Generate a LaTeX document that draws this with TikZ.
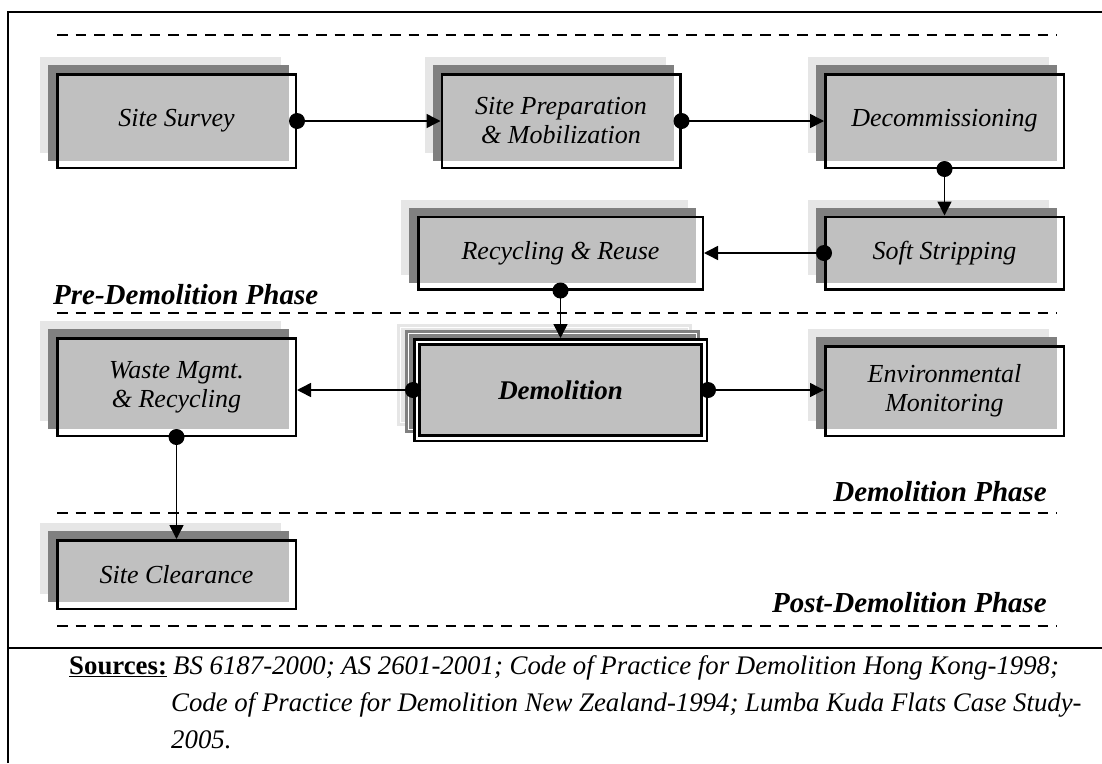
\documentclass[tikz,border=0pt]{standalone}
\usepackage{fontspec}
\setmainfont{Liberation Serif}
\usetikzlibrary{arrows.meta,backgrounds}

\definecolor{shadelight}{HTML}{E6E6E6}
\definecolor{shadedark}{HTML}{808080}
\definecolor{boxgray}{HTML}{C0C0C0}

% two offset shade layers, white frame area and the grey panel of a step box
\newcommand\layeredshade[1]{%
  \fill[shadelight] ([shift={(-16,-16)}]#1.north west) rectangle ([shift={(-16,-16)}]#1.south east);
  \fill[shadedark] ([shift={(-8,-8)}]#1.north west) rectangle ([shift={(-8,-8)}]#1.south east);
  \fill[white] (#1.north west) rectangle (#1.south east);
  \fill[boxgray] (#1.north west) rectangle ([shift={(-8,-8)}]#1.south east);
}

\begin{document}
\begin{tikzpicture}[x=1pt, y=-1pt,
  stepbox/.style={draw, line width=2.5pt, inner sep=0pt, align=center,
    font=\fontsize{26}{29}\selectfont\itshape},
  keybox/.style={draw, line width=2.5pt, double=white, double distance=2.6pt,
    fill=boxgray, inner sep=0pt, outer sep=3.8pt, align=center,
    font=\fontsize{27}{30}\selectfont\bfseries\itshape},
  phaseline/.style={line width=2.3pt, dash pattern=on 10.5pt off 8pt},
  phaselabel/.style={inner sep=0pt, font=\fontsize{29}{33}\selectfont\bfseries\itshape},
  srctext/.style={inner sep=0pt, anchor=base west, font=\fontsize{26.8}{30}\selectfont\itshape},
  conn/.style={line width=1.5pt, -{Triangle[length=14pt,width=14pt]}},
  dot/.style={fill=black}]

\useasboundingbox (0,0) rectangle (1102,763);

% frame
\draw[line width=2pt] (8,763) -- (8,11.5) -- (1102,11.5);
\draw[line width=2.8pt] (8,648) -- (1102,648);

% phase separators
\draw[phaseline] (57,35) -- (1057,35);
\draw[phaseline] (57,313) -- (1057,313);
\draw[phaseline] (57,513) -- (1057,513);
\draw[phaseline] (57,626) -- (1057,626);

% steps
\node[stepbox, minimum width=238.5pt, minimum height=93.5pt] (ss) at (176.5,121) {Site Survey};
\node[stepbox, minimum width=238.5pt, minimum height=93.5pt] (sp) at (561,121) {Site Preparation\\\& Mobilization};
\node[stepbox, minimum width=238.5pt, minimum height=93.5pt] (dc) at (944.5,121) {Decommissioning};
\node[stepbox, minimum width=238.5pt, minimum height=72.5pt] (st) at (944.5,253) {Soft Stripping};
\node[stepbox, minimum width=284.5pt, minimum height=72.5pt] (rr) at (560.5,253) {Recycling \& Reuse};
\node[keybox, minimum width=287.4pt, minimum height=96.4pt] (dm) at (560.5,390) {Demolition};
\node[stepbox, minimum width=238.5pt, minimum height=97.5pt] (wm) at (176.5,387) {Waste Mgmt.\\\& Recycling};
\node[stepbox, minimum width=238.5pt, minimum height=89.5pt] (em) at (944.5,391) {Environmental\\Monitoring};
\node[stepbox, minimum width=238.5pt, minimum height=68.5pt] (sc) at (176.5,574.5) {Site Clearance};

\begin{scope}[on background layer]
  \layeredshade{ss}
  \layeredshade{sp}
  \layeredshade{dc}
  \layeredshade{st}
  \layeredshade{rr}
  \layeredshade{wm}
  \layeredshade{em}
  \layeredshade{sc}
  % shade layers of the main step, each with its own thin inner rule
  \fill[shadelight] ([shift={(-16,-14)}]dm.north west) rectangle ([shift={(-16,-16)}]dm.south east);
  \draw[white, line width=0.8pt] ([shift={(-12.2,-10.2)}]dm.north west) rectangle ([shift={(-19.8,-19.8)}]dm.south east);
  \fill[shadedark] ([shift={(-8,-8)}]dm.north west) rectangle ([shift={(-8,-9)}]dm.south east);
  \draw[white, line width=0.8pt] ([shift={(-4.2,-4.2)}]dm.north west) rectangle ([shift={(-11.8,-12.8)}]dm.south east);
\end{scope}

% phase labels
\node[phaselabel, anchor=base west] (prelbl) at (53,304) {Pre-Demolition Phase};
\node[phaselabel, anchor=base east] (demlbl) at (1047,501) {Demolition Phase};
\node[phaselabel, anchor=base east] (postlbl) at (1047,612) {Post-Demolition Phase};

% connectors
\draw[conn] (ss.east) -- (sp.west);
\fill[dot] (ss.east) circle (8pt);
\draw[conn] (sp.east) -- (dc.west);
\fill[dot] (sp.east) circle (8pt);
\draw[conn] (dc.south) -- (st.north);
\fill[dot] (dc.south) circle (8pt);
\draw[conn] (st.west) -- (st.west -| rr.east);
\fill[dot] (st.west) circle (8pt);
\draw[conn] (rr.south) -- (dm.north);
\fill[dot] (rr.south) circle (8pt);
\draw[conn] (dm.west) -- (dm.west -| wm.east);
\fill[dot] (dm.west) circle (8pt);
\draw[conn] (dm.east) -- (dm.east -| em.west);
\fill[dot] (dm.east) circle (8pt);
\draw[conn] (wm.south) -- (sc.north);
\fill[dot] (wm.south) circle (8pt);

% sources
\node[srctext, font=\fontsize{26.8}{30}\selectfont\bfseries] (srclbl) at (69,674) {\underline{Sources:}};
\node[srctext] (src1) at (173,674) {BS 6187-2000; AS 2601-2001; Code of Practice for Demolition Hong Kong-1998;};
\node[srctext] (src2) at (171,711) {Code of Practice for Demolition New Zealand-1994; Lumba Kuda Flats Case Study-};
\node[srctext] (src3) at (171,748) {2005.};

\end{tikzpicture}
\end{document}
